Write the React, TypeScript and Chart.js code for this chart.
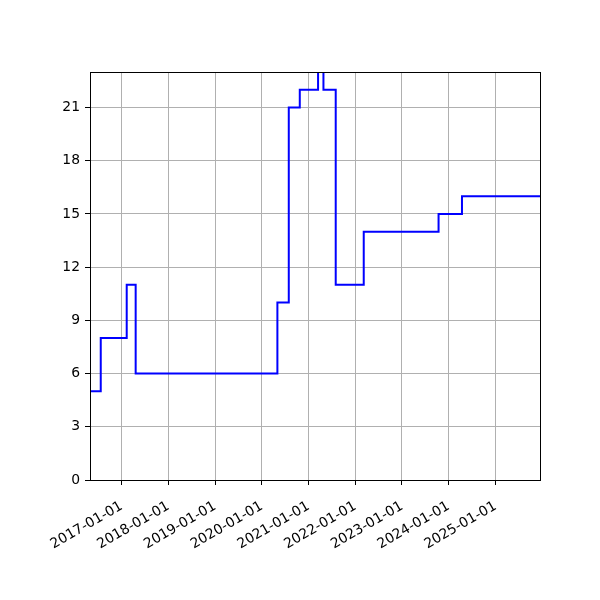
import React, { useEffect, useRef } from "react";
import { Chart, registerables } from "chart.js";

Chart.register(...registerables);

// dates where the value changes (value held until the next date)
const stepDates = [
  "2016-04-28",
  "2016-07-21",
  "2017-02-09",
  "2017-04-20",
  "2020-05-02",
  "2020-07-30",
  "2020-10-24",
  "2021-03-16",
  "2021-04-27",
  "2021-08-01",
  "2022-03-08",
  "2023-10-14",
  "2024-04-14",
  "2025-12-15",
];
const stepValues = [5, 8, 11, 6, 10, 21, 22, 24, 22, 11, 14, 15, 16, 16];

const xTickLabels = [
  "2017-01-01",
  "2018-01-01",
  "2019-01-01",
  "2020-01-01",
  "2021-01-01",
  "2022-01-01",
  "2023-01-01",
  "2024-01-01",
  "2025-01-01",
];
const yTickValues = [0, 3, 6, 9, 12, 15, 18, 21];

const xMinDate = "2016-04-28";
const xMaxDate = "2025-12-15";
const yMax = 23;

const toMs = (s: string) => {
  const [y, m, d] = s.split("-").map(Number);
  return Date.UTC(y, m - 1, d);
};

const font = { family: "DejaVu Sans", size: 13.9 };

// matplotlib-like box round the plot area
const frame = {
  id: "frame",
  afterDatasetsDraw(chart: any) {
    const { ctx, chartArea } = chart;
    ctx.save();
    ctx.strokeStyle = "#000";
    ctx.lineWidth = 1;
    ctx.strokeRect(
      Math.round(chartArea.left) + 0.5,
      Math.round(chartArea.top) + 0.5,
      Math.round(chartArea.right - chartArea.left),
      Math.round(chartArea.bottom - chartArea.top)
    );
    ctx.restore();
  },
};

const StepChart = () => {
  const chartRef = useRef<HTMLCanvasElement>(null);

  useEffect(() => {
    const ctx = chartRef.current!.getContext("2d")!;
    const myChart = new Chart(ctx, {
      type: "line",
      data: {
        datasets: [
          {
            data: stepDates.map((d, i) => ({ x: toMs(d), y: stepValues[i] })),
            borderColor: "#0000ff",
            borderWidth: 2,
            stepped: "before",
            pointRadius: 0,
            fill: false,
          },
        ],
      },
      options: {
        responsive: false,
        animation: false,
        layout: { padding: { top: 72, right: 60, left: 0, bottom: 0 } },
        plugins: {
          legend: { display: false },
          tooltip: { enabled: false },
        },
        scales: {
          x: {
            type: "linear",
            min: toMs(xMinDate),
            max: toMs(xMaxDate),
            afterBuildTicks: (axis: any) => {
              axis.ticks = xTickLabels.map((l) => ({ value: toMs(l) }));
            },
            afterFit: (axis: any) => {
              axis.height = 120;
            },
            grid: {
              color: "#b0b0b0",
              lineWidth: 1,
              tickColor: "#000",
              tickLength: 5,
            },
            border: { display: false },
            ticks: {
              autoSkip: false,
              minRotation: 30,
              maxRotation: 30,
              padding: 13,
              color: "#000",
              font,
              callback: (v: any) => new Date(v).toISOString().slice(0, 10),
            },
          },
          y: {
            min: 0,
            max: yMax,
            afterBuildTicks: (axis: any) => {
              axis.ticks = yTickValues.map((v) => ({ value: v }));
            },
            afterFit: (axis: any) => {
              axis.width = 90;
            },
            grid: {
              color: "#b0b0b0",
              lineWidth: 1,
              tickColor: "#000",
              tickLength: 5,
            },
            border: { display: false },
            ticks: { padding: 5, color: "#000", font },
          },
        },
      },
      plugins: [frame],
    });

    return () => {
      myChart.destroy();
    };
  }, []);

  return (
    <div style={{ position: "absolute", left: 0, top: 0, width: 600, height: 600, background: "#fff" }}>
      <canvas ref={chartRef} width="600" height="600"></canvas>
    </div>
  );
};

export default function App() {
  return <StepChart />;
}
